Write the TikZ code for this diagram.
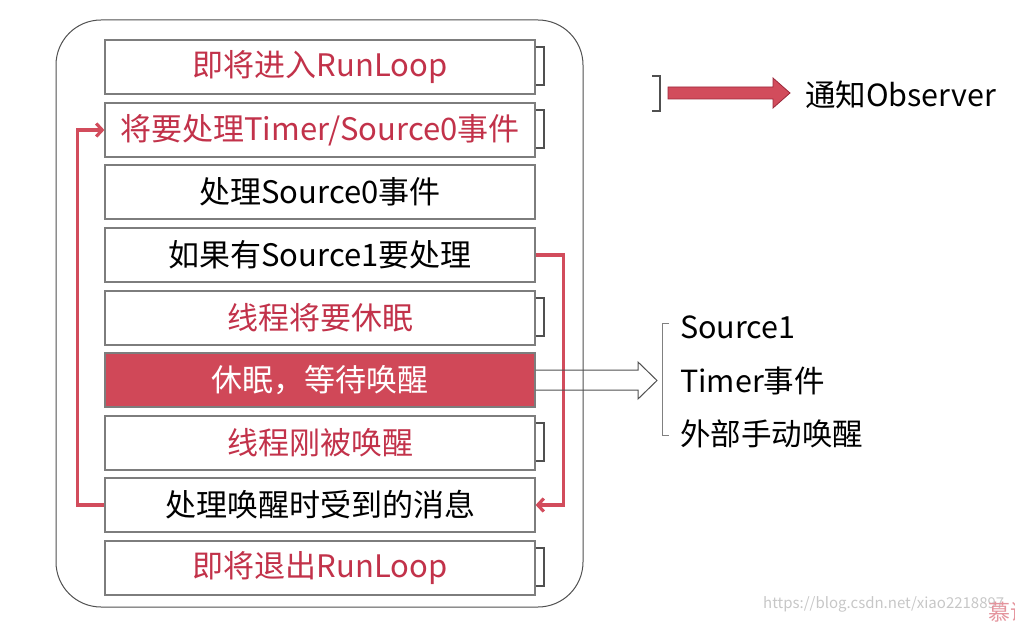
\documentclass[tikz,border=0pt]{standalone}
\usepackage{fontspec}
\setmainfont{Noto Sans CJK SC}
\usetikzlibrary{arrows.meta,calc}
\definecolor{redtext}{RGB}{194,50,74}
\definecolor{redfill}{RGB}{208,72,88}
\definecolor{loopred}{RGB}{210,76,92}
\definecolor{boxgray}{RGB}{125,125,125}
\definecolor{darkgray}{RGB}{80,80,80}
\tikzset{
  stepbox/.style={draw=boxgray,line width=1.2pt,minimum width=430pt,minimum height=54pt,inner sep=0pt,font=\fontsize{31}{33}\selectfont,fill=white},
  redstep/.style={stepbox,text=redtext},
  blackstep/.style={stepbox,text=black},
  hotstep/.style={stepbox,fill=redfill,text=white},
  obsbracket/.style={draw=darkgray,line width=2pt},
  loopline/.style={draw=loopred,line width=3.2pt,-{Straight Barb[length=6pt,width=13pt]}},
  sidetext/.style={anchor=west,inner sep=0pt,font=\fontsize{30.5}{32}\selectfont},
}
\begin{document}
\begin{tikzpicture}[x=1pt,y=-1pt]
\useasboundingbox (0,0) rectangle (1015,623);
% outer frame
\draw[draw=darkgray,line width=1pt,rounded corners=45pt] (56,20) rectangle (583,607);
% steps
\node[redstep]   (b1) at (320,67)  {即将进入RunLoop};
\node[redstep]   (b2) at (320,130) {将要处理Timer/Source0事件};
\node[blackstep] (b3) at (320,192) {处理Source0事件};
\node[blackstep] (b4) at (320,255) {如果有Source1要处理};
\node[redstep]   (b5) at (320,318) {线程将要休眠};
\node[hotstep]   (b6) at (320,380) {休眠，等待唤醒};
\node[redstep]   (b7) at (320,443) {线程刚被唤醒};
\node[blackstep] (b8) at (320,505) {处理唤醒时受到的消息};
\node[redstep]   (b9) at (320,568) {即将退出RunLoop};
% observer brackets
\foreach \b in {b1,b2,b5,b7,b9}{
  \draw[obsbracket] (\b.north east) ++(0,8) -- ++(8,0) -- ++(0,38) -- ++(-8,0);
}
% loops
\draw[loopline] (b8.west) -- ++(-27,0) |- (b2.west);
\draw[loopline] (b4.east) -- ++(28,0) |- (b8.east);
% hollow arrow
\draw[draw=darkgray,line width=1pt] (b6.east) ++(0,-10) -- (638,370) -- (638,362) -- (657,380.5) -- (638,399) -- (638,390) -- ($(b6.east)+(0,10)$);
% wake sources bracket
\draw[draw=gray,line width=1pt] (669,323) -- (662,323) -- (662,435) -- (669,435);
\node[sidetext] (s1) at (680,327) {Source1};
\node[sidetext] (s2) at (680,381) {Timer事件};
\node[sidetext] (s3) at (680,434) {外部手动唤醒};
% legend
\draw[obsbracket] (652,76) -- (660,76) -- (660,111) -- (652,111);
\coordinate (lg1) at (668,93);
\node[sidetext] (lgt) at (805,95) {通知Observer};
\draw[draw=redtext!80!black,fill=loopred,line width=0.8pt]
  (lg1) ++(0,-6) -- (773,87) -- (773,78) -- (790,93) -- (773,108) -- (773,99) -- ($(lg1)+(0,6)$) -- cycle;
% watermark
\node[anchor=west,inner sep=0pt,text=black!22,font=\fontsize{15}{16}\selectfont] (wm) at (763,604) {https://blog.csdn.net/xiao2218897};
\node[anchor=west,inner sep=0pt,text=loopred!60,font=\fontsize{22}{24}\selectfont] (logo) at (988,612) {慕课};
\end{tikzpicture}
\end{document}
